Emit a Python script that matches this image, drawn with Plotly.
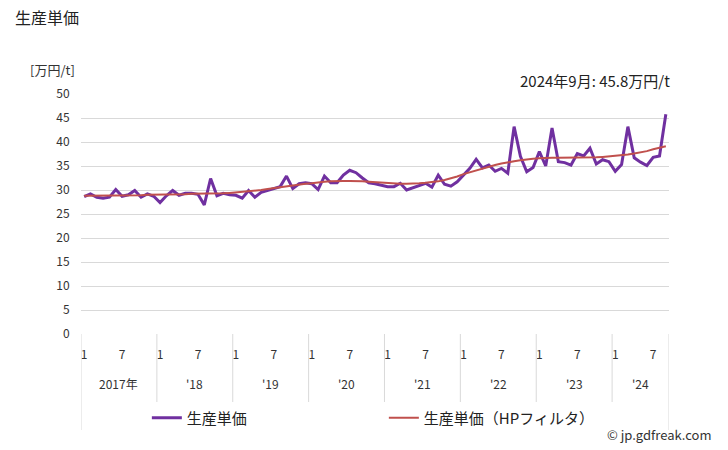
import plotly.graph_objects as go

# ---- data (monthly, Jan 2017 - Sep 2024) ----
price = [
    28.6, 29.2, 28.5, 28.3, 28.5, 30.1, 28.7, 29.0, 29.9, 28.5, 29.2, 28.7,   # 2017
    27.4, 28.8, 29.9, 28.9, 29.3, 29.3, 29.1, 26.9, 32.4, 28.8, 29.3, 29.0,   # 2018
    28.9, 28.3, 29.9, 28.5, 29.5, 29.9, 30.2, 30.7, 32.9, 30.3, 31.3, 31.5,   # 2019
    31.3, 30.1, 32.9, 31.5, 31.5, 33.1, 34.1, 33.6, 32.5, 31.5, 31.3, 31.0,   # 2020
    30.7, 30.7, 31.4, 30.0, 30.5, 30.9, 31.4, 30.6, 33.1, 31.2, 30.8, 31.7,   # 2021
    33.2, 34.5, 36.4, 34.6, 35.2, 33.9, 34.5, 33.5, 43.2, 37.0, 33.8, 34.7,   # 2022
    38.0, 35.0, 42.9, 35.9, 35.7, 35.2, 37.6, 37.1, 38.7, 35.4, 36.3, 35.9,   # 2023
    33.9, 35.3, 43.2, 36.7, 35.8, 35.1, 36.8, 37.1, 45.8,                     # 2024
]
price_hp = [
    28.8, 28.8, 28.8, 28.8, 28.8, 28.9, 28.9, 28.9, 28.9, 28.9, 29.0, 29.0,
    29.0, 29.0, 29.1, 29.1, 29.1, 29.2, 29.2, 29.2, 29.2, 29.3, 29.3, 29.4,
    29.5, 29.6, 29.7, 29.9, 30.0, 30.2, 30.4, 30.5, 30.7, 30.9, 31.1, 31.3,
    31.4, 31.6, 31.7, 31.8, 31.9, 31.9, 31.9, 31.9, 31.8, 31.7, 31.6, 31.5,
    31.4, 31.3, 31.3, 31.3, 31.3, 31.4, 31.5, 31.6, 31.8, 32.1, 32.4, 32.8,
    33.3, 33.7, 34.1, 34.5, 34.9, 35.2, 35.5, 35.8, 36.0, 36.2, 36.4, 36.5,
    36.6, 36.7, 36.7, 36.7, 36.7, 36.7, 36.7, 36.8, 36.8, 36.8, 36.9, 37.0,
    37.1, 37.2, 37.4, 37.6, 37.8, 38.1, 38.5, 38.8, 39.1,
]
year_labels = ["2017年", "'18", "'19", "'20", "'21", "'22", "'23", "'24"]
month_tick_labels = ["1", "7"]
y_ticks = [0, 5, 10, 15, 20, 25, 30, 35, 40, 45, 50]

n = len(price)
x = list(range(n))

FONT = "Noto Sans CJK JP, Noto Sans, sans-serif"

fig = go.Figure()
fig.add_trace(go.Scatter(x=x, y=price, mode="lines", name="生産単価",
                         line=dict(color="#7030A0", width=3)))
fig.add_trace(go.Scatter(x=x, y=price_hp, mode="lines", name="生産単価（HPフィルタ）",
                         line=dict(color="#C0504D", width=2)))

tickvals, ticktext = [], []
for m in range(0, n, 6):
    tickvals.append(m)
    ticktext.append(month_tick_labels[(m // 6) % 2])

shapes = []
bounds = [12 * k - 0.5 for k in range(len(year_labels))] + [n - 0.5]
for b in bounds:
    shapes.append(dict(type="line", xref="x", yref="paper", x0=b, x1=b,
                       y0=0, y1=-0.4, line=dict(color="#d9d9d9", width=1)))

annotations = []
for k, lab in enumerate(year_labels):
    start = 12 * k - 0.5
    end = min(12 * k + 11.5, n - 0.5)
    annotations.append(dict(x=(start + end) / 2, y=-0.205, xref="x", yref="paper",
                            text=lab, showarrow=False, font=dict(size=12, color="#333"),
                            xanchor="center", yanchor="middle"))
annotations += [
    dict(x=-0.09, y=1.1, xref="paper", yref="paper", text="[万円/t]", showarrow=False,
         font=dict(size=13, color="#333"), xanchor="left", yanchor="middle"),
    dict(x=1.005, y=1.058, xref="paper", yref="paper", text="2024年9月: 45.8万円/t",
         showarrow=False, font=dict(size=15, color="#222"), xanchor="right", yanchor="middle"),
    dict(x=1.076, y=-0.42, xref="paper", yref="paper", text="© jp.gdfreak.com",
         showarrow=False, font=dict(size=13, color="#333"), xanchor="right", yanchor="middle"),
]

fig.update_layout(
    width=728, height=450,
    margin=dict(l=81, r=59, t=94, b=116),
    paper_bgcolor="white", plot_bgcolor="white",
    font=dict(family=FONT, color="#333"),
    title=dict(text="生産単価", x=15 / 728, xanchor="left", y=1 - 18 / 450, yanchor="middle",
               xref="container", yref="container", font=dict(size=16, color="#222")),
    xaxis=dict(range=[-0.5, n - 0.5], tickvals=tickvals, ticktext=ticktext,
               showgrid=False, zeroline=False, showline=False,
               ticks="outside", ticklen=10, tickcolor="rgba(0,0,0,0)",
               tickfont=dict(size=12, color="#333")),
    yaxis=dict(range=[0, 50], tickvals=y_ticks, showgrid=True, gridcolor="#d9d9d9",
               gridwidth=1, zeroline=False, showline=False,
               ticks="outside", ticklen=8, tickcolor="rgba(0,0,0,0)",
               tickfont=dict(size=12, color="#333")),
    legend=dict(orientation="h", x=0.112, y=-0.35, xanchor="left", yanchor="middle",
                entrywidth=192, font=dict(size=15, color="#222")),
    shapes=shapes, annotations=annotations,
    showlegend=True,
)

fig.write_html("out.html", config={"displayModeBar": False},
               post_script="document.body.style.margin='0px';document.body.style.overflow='hidden';")
